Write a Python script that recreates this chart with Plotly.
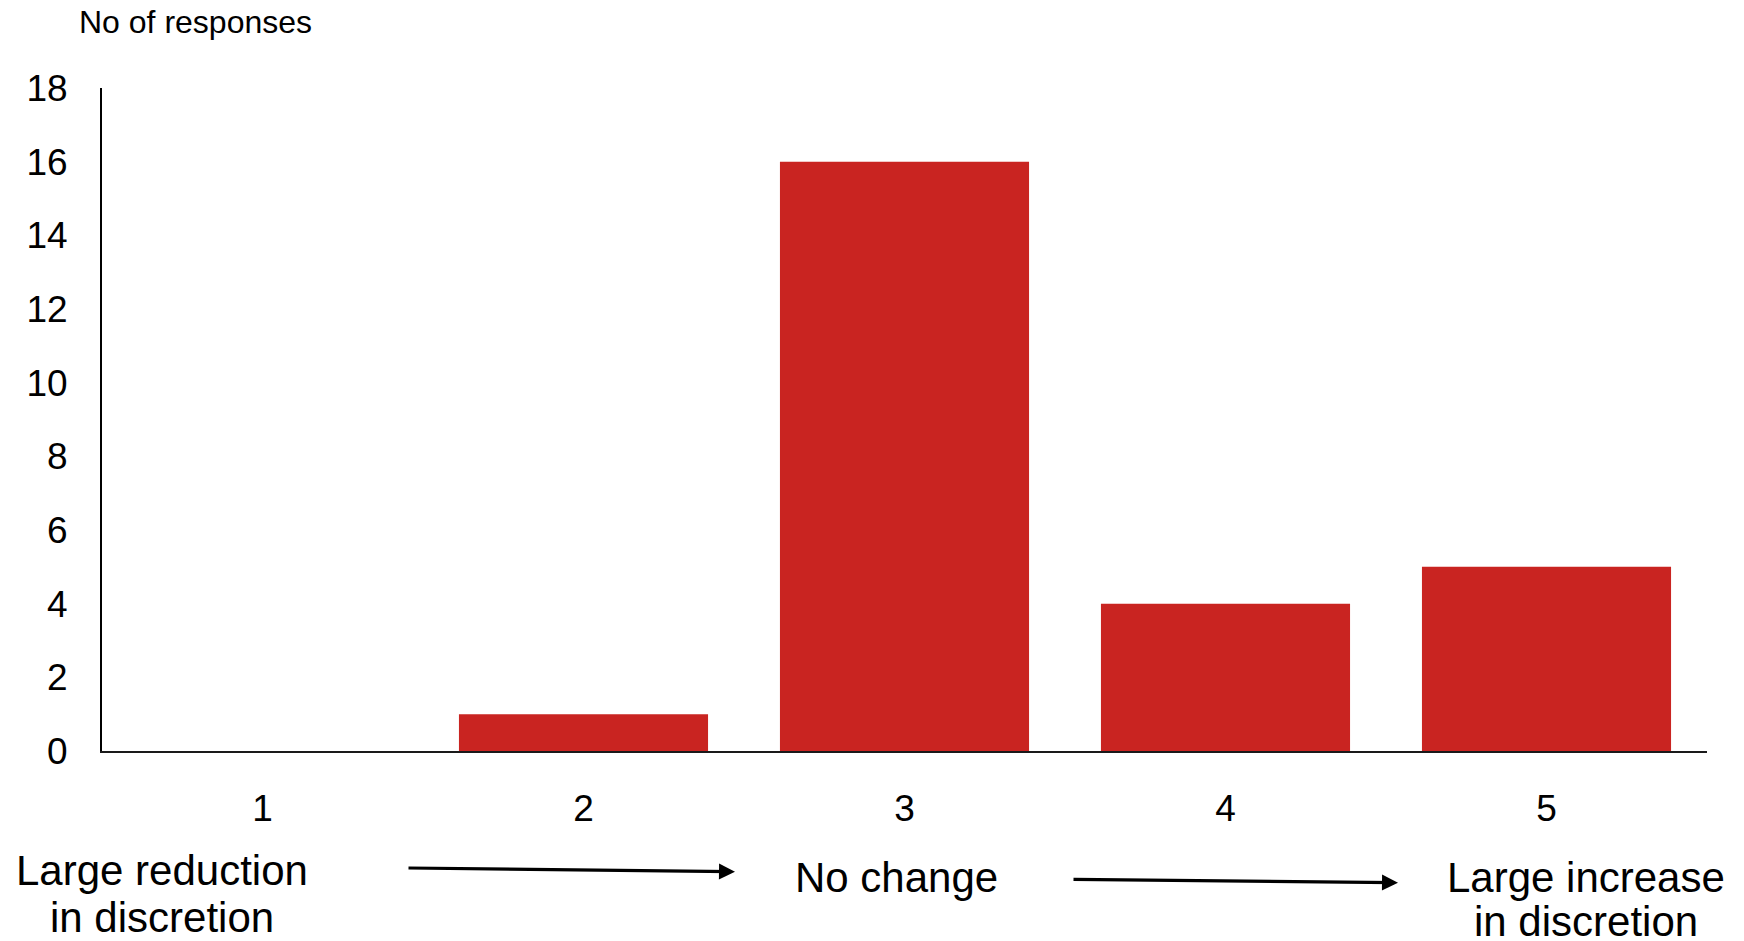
import plotly.graph_objects as go

categories = [1, 2, 3, 4, 5]
responses = [0, 1, 16, 4, 5]
x_tick_labels = ["1", "2", "3", "4", "5"]
y_tick_values = [0, 2, 4, 6, 8, 10, 12, 14, 16, 18]
y_axis_title = "No of responses"
scale_labels = [
    ("Large reduction", "in discretion"),
    ("No change",),
    ("Large increase", "in discretion"),
]

# page offset (browser default body margin)
OFF = 8
W, H = 1744 - OFF, 941 - OFF
# plot area in page pixels
PX0, PX1, PY0, PY1 = 102, 1707, 88, 751
L, R, T, B = PX0 - OFF, (W + OFF) - PX1, PY0 - OFF, (H + OFF) - PY1
PW = PX1 - PX0
PH = PY1 - PY0
FONT = "Liberation Sans, Arial, sans-serif"
BAR_COLOR = "#C92421"


def px(xp):
    return (xp - PX0) / PW


def py(yp):
    return (PY1 - yp) / PH


fig = go.Figure()
fig.add_trace(go.Bar(
    x=categories, y=responses,
    marker=dict(color=BAR_COLOR, line=dict(width=0)),
    hoverinfo="x+y",
))

annotations = []
annotations.append(dict(
    text=y_axis_title, xref="paper", yref="paper",
    x=px(77), y=py(22), xanchor="left", yanchor="middle",
    showarrow=False, font=dict(family=FONT, size=32, color="#000000"),
))

label_specs = [
    (scale_labels[0], 161.5, [885, 932]),
    (scale_labels[1], 896, [892]),
    (scale_labels[2], 1586, [892, 936]),
]
for lines, cx, baselines in label_specs:
    for line, bl in zip(lines, baselines):
        annotations.append(dict(
            text=line, xref="paper", yref="paper",
            x=px(cx), y=py(bl - 14.5), xanchor="center", yanchor="middle",
            showarrow=False, font=dict(family=FONT, size=42, color="#000000"),
        ))

for (tx, ty, hx, hy) in [(407, 868, 735, 871.7), (1072, 879.3, 1398, 882.7)]:
    annotations.append(dict(
        text="", xref="paper", yref="paper",
        x=px(hx), y=py(hy), ax=tx - hx, ay=ty - hy,
        axref="pixel", ayref="pixel",
        showarrow=True, arrowhead=2, arrowsize=1, arrowwidth=3.2,
        arrowcolor="#000000", standoff=0,
    ))

fig.update_layout(
    width=W, height=H,
    margin=dict(l=L, r=R, t=T, b=B, pad=0),
    paper_bgcolor="white", plot_bgcolor="white",
    bargap=0.224,
    showlegend=False,
    font=dict(family=FONT, color="#000000"),
    annotations=annotations,
    xaxis=dict(
        range=[0.5, 5.5], tickmode="array", tickvals=categories, ticktext=x_tick_labels,
        showgrid=False, zeroline=False, showline=True, linecolor="#1a1a1a", linewidth=2,
        ticks="", tickfont=dict(family=FONT, size=37, color="#000000"),
        ticklabelstandoff=24, fixedrange=True,
    ),
    yaxis=dict(
        range=[0, 18], tickmode="array", tickvals=y_tick_values,
        showgrid=False, zeroline=False, showline=True, linecolor="#000000", linewidth=2,
        ticks="", tickfont=dict(family=FONT, size=37, color="#000000"),
        ticklabelstandoff=25, fixedrange=True,
    ),
)

fig.write_html("out.html", config={"displayModeBar": False})
